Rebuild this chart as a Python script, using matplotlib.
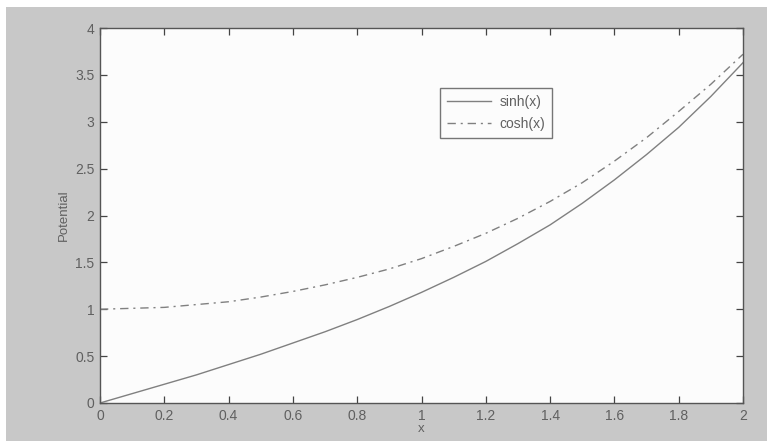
import matplotlib
matplotlib.use("Agg")
import matplotlib.pyplot as plt
from matplotlib.patches import Rectangle

x = [0.0, 0.1, 0.2, 0.3, 0.4, 0.5, 0.6, 0.7, 0.8, 0.9, 1.0,
     1.1, 1.2, 1.3, 1.4, 1.5, 1.6, 1.7, 1.8, 1.9, 2.0]
sinh_vals = [0.00, 0.10, 0.20, 0.30, 0.41, 0.52, 0.64, 0.76, 0.89, 1.03, 1.18,
             1.34, 1.51, 1.70, 1.90, 2.13, 2.38, 2.65, 2.94, 3.27, 3.63]
cosh_vals = [1.00, 1.01, 1.02, 1.05, 1.08, 1.13, 1.19, 1.26, 1.34, 1.43, 1.54,
             1.67, 1.81, 1.97, 2.15, 2.35, 2.58, 2.83, 3.11, 3.40, 3.72]
xticks = [0, 0.2, 0.4, 0.6, 0.8, 1, 1.2, 1.4, 1.6, 1.8, 2]
xticklabels = ["0", "0.2", "0.4", "0.6", "0.8", "1", "1.2", "1.4", "1.6", "1.8", "2"]
yticks = [0, 0.5, 1, 1.5, 2, 2.5, 3, 3.5, 4]
yticklabels = ["0", "0.5", "1", "1.5", "2", "2.5", "3", "3.5", "4"]

plt.rcParams['font.family'] = ['Liberation Sans', 'DejaVu Sans']

W, H = 767, 441
fig = plt.figure(figsize=(W / 100, H / 100), dpi=100, facecolor='white')
fig.patches.append(Rectangle((6 / W, 0), 1 - 6 / W, 1 - 7 / H, transform=fig.transFigure,
                             facecolor='#c8c8c8', edgecolor='none', zorder=-10))

ax = fig.add_axes([100 / W, 1 - 403 / H, (743 - 100) / W, (403 - 28) / H])
ax.set_facecolor('#fcfcfc')

line_col = '#808080'
ax.plot(x, sinh_vals, color=line_col, lw=1.0, ls='-', label='sinh(x)')
ax.plot(x, cosh_vals, color=line_col, lw=1.0, ls=(0, (6, 3.5, 1.5, 3.5)), label='cosh(x)')

ax.set_xlim(0, 2)
ax.set_ylim(0, 4)
ax.set_xticks(xticks)
ax.set_xticklabels(xticklabels)
ax.set_yticks(yticks)
ax.set_yticklabels(yticklabels)
tc = '#606060'
ax.tick_params(direction='in', top=True, right=True, length=5, width=0.9,
               colors='#444444', labelcolor=tc, labelsize=10, pad=4)
for s in ax.spines.values():
    s.set_color('#555555')
    s.set_linewidth(1.0)

ax.set_xlabel('x', color=tc, fontsize=9.5, labelpad=0)
ax.set_ylabel('Potential', color=tc, fontsize=9.5, labelpad=4)

leg = ax.legend(loc='upper left', bbox_to_anchor=((440 - 100) / (743 - 100), (403 - 88) / 375),
                fontsize=10, frameon=True, fancybox=False, handlelength=3.2,
                borderpad=0.5, labelspacing=0.55, handletextpad=0.6, borderaxespad=0)
leg.get_frame().set_edgecolor('#555555')
leg.get_frame().set_linewidth(1.0)
leg.get_frame().set_facecolor('#fcfcfc')
for t in leg.get_texts():
    t.set_color(tc)

fig.savefig('out.png', dpi=100, facecolor=fig.get_facecolor())
